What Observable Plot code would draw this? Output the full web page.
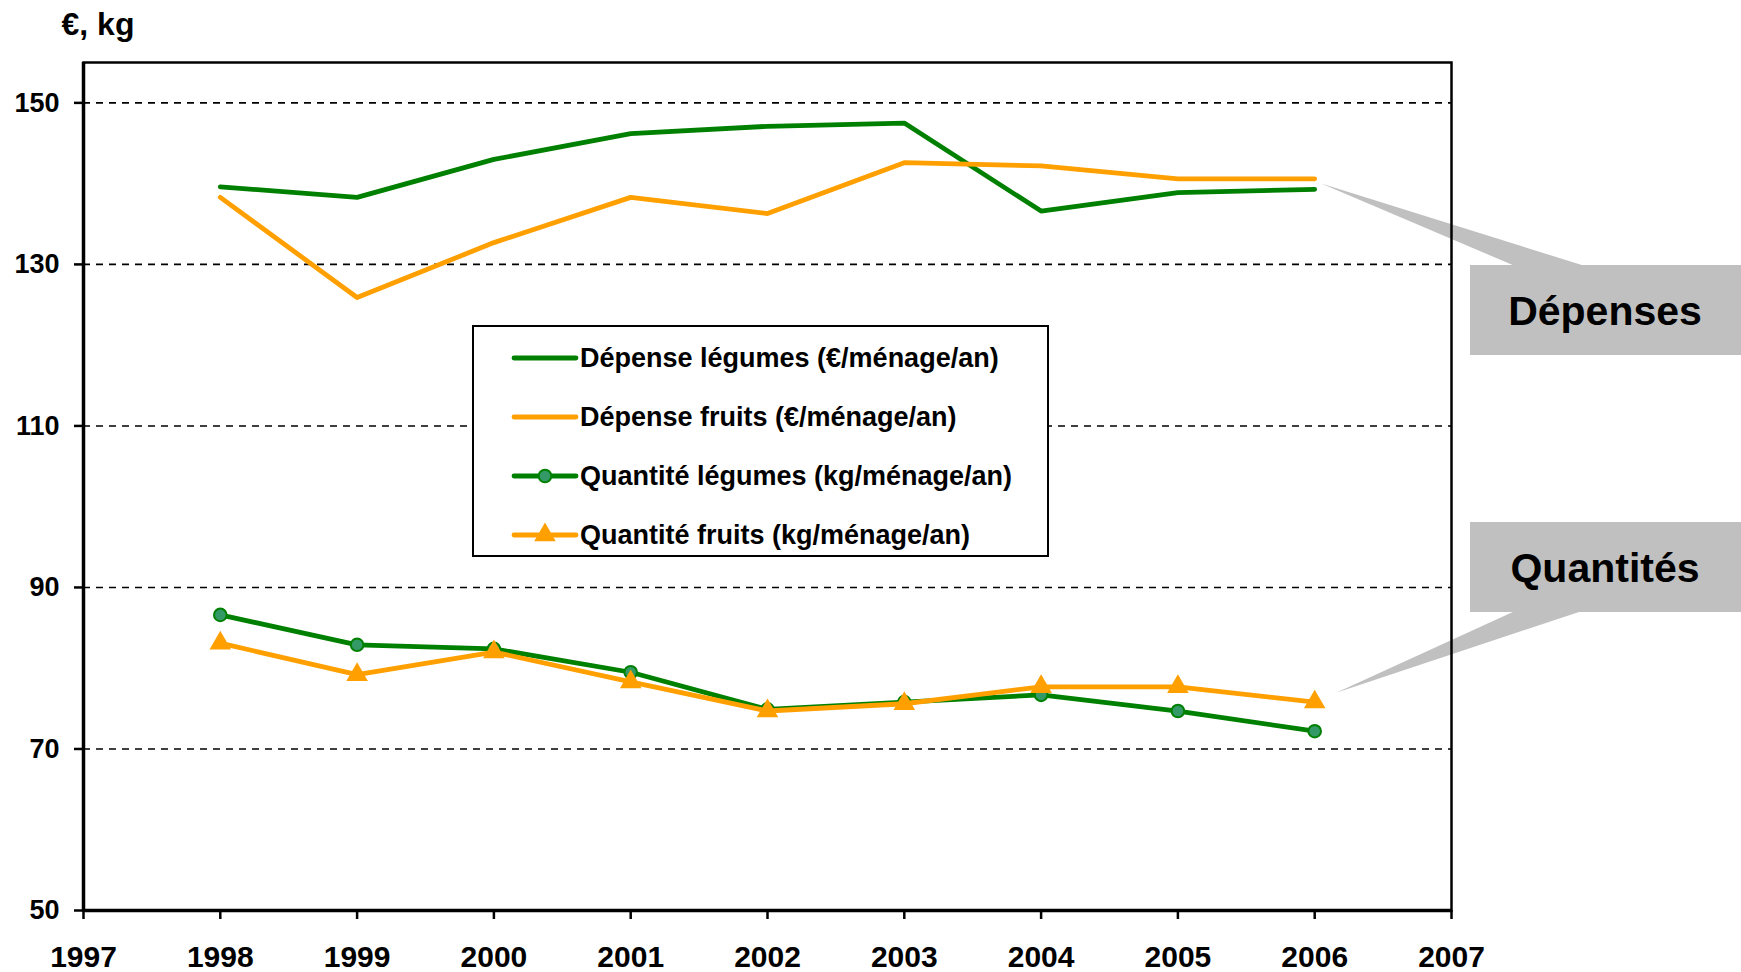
<!DOCTYPE html>
<html>
<head>
<meta charset="utf-8">
<script src="https://cdn.jsdelivr.net/npm/d3@7"></script>
<script src="https://cdn.jsdelivr.net/npm/@observablehq/plot@0.6"></script>
<style>
  html, body { margin: 0; padding: 0; background: white; }
  #wrap { position: relative; width: 1741px; height: 972px; overflow: hidden; font-family: "Liberation Sans", Arial, sans-serif; }
  #legend {
    position: absolute; left: 472px; top: 325px; width: 573px; height: 228px;
    border: 2px solid black; background: white; box-sizing: content-box;
  }
  .row { position: absolute; left: 0; height: 40px; display: flex; align-items: center; }
  .row svg { margin-left: 40px; }
  .row span { font-weight: bold; font-size: 27px; color: black; margin-left: 4px; white-space: nowrap; }
</style>
</head>
<body>
<div id="wrap"></div>
<script>
// ---- data ----
const years = [1998, 1999, 2000, 2001, 2002, 2003, 2004, 2005, 2006];
const depenseLegumes  = [139.6, 138.3, 143.0, 146.2, 147.1, 147.5, 136.6, 138.9, 139.3];
const depenseFruits   = [138.3, 125.9, 132.7, 138.3, 136.3, 142.6, 142.2, 140.6, 140.6];
const quantiteLegumes = [86.6, 82.9, 82.4, 79.5, 74.9, 75.8, 76.7, 74.7, 72.2];
const quantiteFruits  = [83.1, 79.2, 82.0, 78.3, 74.7, 75.6, 77.7, 77.7, 75.8];
const xTicks = [1997, 1998, 1999, 2000, 2001, 2002, 2003, 2004, 2005, 2006, 2007];
const yTicks = [50, 70, 90, 110, 130, 150];
const gridTicks = [70, 90, 110, 130, 150];
const seriesNames = [
  "Dépense légumes (€/ménage/an)",
  "Dépense fruits (€/ménage/an)",
  "Quantité légumes (kg/ménage/an)",
  "Quantité fruits (kg/ménage/an)"
];
const yLabel = "€, kg";
const calloutLabels = ["Dépenses", "Quantités"];

const GREEN = "#008000";
const ORANGE = "#FFA000";
const GREEN_FILL = "#339966";

const toRows = (vals) => years.map((y, i) => ({year: y, value: vals[i]}));
const dL = toRows(depenseLegumes), dF = toRows(depenseFruits),
      qL = toRows(quantiteLegumes), qF = toRows(quantiteFruits);

const font = "Liberation Sans, Arial, sans-serif";

const chart = Plot.plot({
  width: 1741, height: 972,
  marginLeft: 83, marginRight: 290, marginTop: 62, marginBottom: 62,
  style: {fontFamily: font, fontWeight: "bold", fontSize: "28px", color: "black", background: "white"},
  x: {domain: [1997, 2007]},
  y: {domain: [50, 155]},
  marks: [
    Plot.ruleY(gridTicks, {stroke: "black", strokeWidth: 1.6, strokeDasharray: "7,6"}),
    Plot.line(dL, {x: "year", y: "value", stroke: GREEN, strokeWidth: 4.8}),
    Plot.line(dF, {x: "year", y: "value", stroke: ORANGE, strokeWidth: 4.8}),
    Plot.line(qL, {x: "year", y: "value", stroke: GREEN, strokeWidth: 4.8}),
    Plot.dot(qL, {x: "year", y: "value", r: 6.3, fill: GREEN_FILL, stroke: GREEN, strokeWidth: 2}),
    Plot.line(qF, {x: "year", y: "value", stroke: ORANGE, strokeWidth: 4.8}),
    Plot.dot(qF, {x: "year", y: "value", symbol: "triangle", r: 8, fill: ORANGE, stroke: "none"}),
    Plot.frame({stroke: "black", strokeWidth: 2.5}),
    Plot.ruleX([1997], {stroke: "black", strokeWidth: 3.5}),
    Plot.ruleY([50], {stroke: "black", strokeWidth: 3.5}),
    Plot.axisX({ticks: xTicks, tickFormat: d => String(d), tickSize: 9, tickPadding: 26, strokeWidth: 2.5, label: null, fontSize: 30, fontWeight: "bold"}),
    Plot.axisY({ticks: yTicks, tickSize: 9, tickPadding: 15, strokeWidth: 2.5, label: null, fontSize: 27, fontWeight: "bold"}),
    Plot.text([yLabel], {text: d => d, frameAnchor: "top-left", textAnchor: "start", lineAnchor: "bottom", dx: -22, dy: -28, fontSize: 32, fontWeight: "bold"})
  ]
});

document.getElementById("wrap").appendChild(chart);

// ---- callouts (tips placed via the chart's scales) ----
const xs = chart.scale("x"), ys = chart.scale("y");
const x2006 = xs.apply(years[years.length - 1]);
const tipD = [x2006 + 7, (ys.apply(depenseFruits[8]) + ys.apply(depenseLegumes[8])) / 2];
const tipQ = [x2006 + 22, ys.apply(quantiteFruits[8]) - 9];

const svg = d3.select(chart);
const g = svg.insert("g", ":first-child").attr("class", "callouts");
const GRAY = "#C0C0C0";
const callouts = [
  {label: calloutLabels[0], box: [1470, 265, 275, 90], tip: tipD, base: [[1515, 266], [1585, 266]]},
  {label: calloutLabels[1], box: [1470, 522, 275, 90], tip: tipQ, base: [[1515, 611], [1582, 611]]}
];
for (const c of callouts) {
  g.append("polygon").attr("points", [c.tip, ...c.base].map(p => p.join(",")).join(" ")).attr("fill", GRAY);
  g.append("rect").attr("x", c.box[0]).attr("y", c.box[1]).attr("width", c.box[2]).attr("height", c.box[3]).attr("fill", GRAY);
  g.append("text").attr("x", 1605).attr("y", c.box[1] + c.box[3] / 2 + 15)
    .attr("text-anchor", "middle").attr("font-family", font).attr("font-weight", "bold")
    .attr("font-size", 41).attr("fill", "black").text(c.label);
}

// ---- legend (HTML) ----
const legend = document.createElement("div");
legend.id = "legend";
const rowCenters = [31, 90, 149, 208];
const kinds = [
  {color: GREEN, marker: null},
  {color: ORANGE, marker: null},
  {color: GREEN, marker: "circle"},
  {color: ORANGE, marker: "triangle"}
];
seriesNames.forEach((name, i) => {
  const row = document.createElement("div");
  row.className = "row";
  row.style.top = (rowCenters[i] - 20) + "px";
  const k = kinds[i];
  let marker = "";
  if (k.marker === "circle") marker = `<circle cx="31" cy="10" r="6.3" fill="${GREEN_FILL}" stroke="${GREEN}" stroke-width="2"/>`;
  if (k.marker === "triangle") marker = `<path d="${d3.symbol(d3.symbolTriangle, Math.PI * 8 * 8)()}" transform="translate(31,10)" fill="${ORANGE}"/>`;
  row.innerHTML = `<svg width="62" height="20" overflow="visible"><line x1="0" x2="62" y1="10" y2="10" stroke="${k.color}" stroke-width="4.8" stroke-linecap="round"/>${marker}</svg><span>${name}</span>`;
  legend.appendChild(row);
});
document.getElementById("wrap").appendChild(legend);
</script>
</body>
</html>
